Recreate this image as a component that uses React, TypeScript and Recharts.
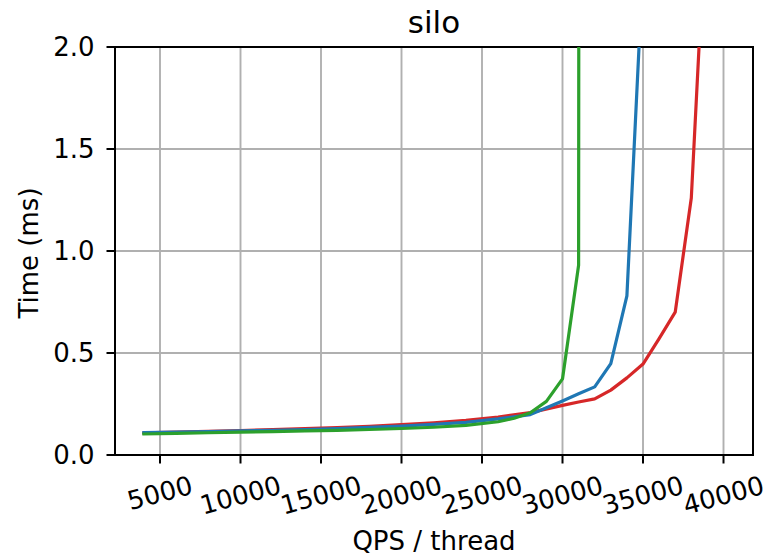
import React from 'react';
import { LineChart, Line, XAxis, YAxis, CartesianGrid, ReferenceArea } from 'recharts';

// QPS per thread (x) vs latency in ms (y)
const redQps = [4000, 6000, 8000, 10000, 12000, 14000, 16000, 18000, 20000, 22000, 24000, 26000, 28000, 30000, 31000, 32000, 33000, 34000, 35000, 36000, 37000, 38000, 39000, 40000];
const redMs = [0.108, 0.112, 0.116, 0.12, 0.124, 0.129, 0.134, 0.141, 0.149, 0.158, 0.17, 0.186, 0.208, 0.243, 0.26, 0.275, 0.318, 0.378, 0.446, 0.57, 0.7, 1.26, 2.8, 5.0];

const blueQps = [4000, 6000, 8000, 10000, 12000, 14000, 16000, 18000, 20000, 22000, 24000, 26000, 28000, 29000, 30000, 31000, 32000, 33000, 34000, 35000];
const blueMs = [0.11, 0.112, 0.115, 0.118, 0.121, 0.125, 0.129, 0.135, 0.142, 0.15, 0.16, 0.177, 0.198, 0.232, 0.265, 0.3, 0.334, 0.448, 0.78, 2.4];

const greenQps = [4000, 6000, 8000, 10000, 12000, 14000, 16000, 18000, 20000, 22000, 24000, 26000, 27000, 28000, 29000, 30000, 31000, 31050];
const greenMs = [0.103, 0.106, 0.109, 0.112, 0.115, 0.118, 0.121, 0.125, 0.13, 0.136, 0.145, 0.163, 0.18, 0.207, 0.263, 0.373, 0.93, 6.0];

const xTicks = [5000, 10000, 15000, 20000, 25000, 30000, 35000, 40000];
const yTicks = [0, 0.5, 1.0, 1.5, 2.0];
const xDomain: [number, number] = [2205, 41832];
const yDomain: [number, number] = [0, 2];

const title = 'silo';
const xLabel = 'QPS / thread';
const yLabel = 'Time (ms)';

const toPoints = (xs: number[], ys: number[]) => xs.map((x, i) => ({ x, y: ys[i] }));
const redData = toPoints(redQps, redMs);
const blueData = toPoints(blueQps, blueMs);
const greenData = toPoints(greenQps, greenMs);

const FONT = 'DejaVu Sans';
const FS = 26;

const XTick = (props: any) => {
  const { x, y, payload } = props;
  const label = String(payload.value);
  const w = label.length * 0.636 * FS;
  const h = FS * 0.96;
  const rad = (15 * Math.PI) / 180;
  const bh = w * Math.sin(rad) + h * Math.cos(rad);
  const cy = y + bh / 2;
  return (
    <text
      x={x}
      y={cy}
      textAnchor="middle"
      dominantBaseline="central"
      transform={`rotate(-15, ${x}, ${cy})`}
      fontFamily={FONT}
      fontSize={FS}
      fill="#000"
    >
      {label}
    </text>
  );
};

export default function App() {
  return (
    <div style={{ position: 'absolute', left: 0, top: 0, width: 768, height: 555, background: '#fff' }}>
      <LineChart width={768} height={555} margin={{ top: 47, right: 15, left: 0, bottom: 0 }}>
        <CartesianGrid stroke="#b0b0b0" strokeWidth={1.9} />
        <XAxis
          type="number"
          dataKey="x"
          domain={xDomain}
          allowDataOverflow
          ticks={xTicks}
          height={100}
          tickSize={8.5}
          tickMargin={9}
          axisLine={{ stroke: '#000', strokeWidth: 2 }}
          tickLine={{ stroke: '#000', strokeWidth: 2 }}
          tick={<XTick />}
          interval={0}
        />
        <YAxis
          type="number"
          dataKey="y"
          domain={yDomain}
          allowDataOverflow
          ticks={yTicks}
          width={115}
          tickSize={8.5}
          tickMargin={12}
          axisLine={{ stroke: '#000', strokeWidth: 2 }}
          tickLine={{ stroke: '#000', strokeWidth: 2 }}
          tick={{ fontSize: FS, fill: '#000', fontFamily: FONT }}
          tickFormatter={(v: number) => v.toFixed(1)}
          interval={0}
        />
        <Line data={redData} dataKey="y" type="linear" dot={false} stroke="#d62728" strokeWidth={3.2} strokeLinejoin="round" strokeLinecap="square" isAnimationActive={false} />
        <Line data={blueData} dataKey="y" type="linear" dot={false} stroke="#1f77b4" strokeWidth={3.2} strokeLinejoin="round" strokeLinecap="square" isAnimationActive={false} />
        <Line data={greenData} dataKey="y" type="linear" dot={false} stroke="#2ca02c" strokeWidth={3.2} strokeLinejoin="round" strokeLinecap="square" isAnimationActive={false} />
        <ReferenceArea x1={xDomain[0]} x2={xDomain[1]} y1={yDomain[0]} y2={yDomain[1]} fill="none" stroke="#000" strokeWidth={2} fillOpacity={0} />
      </LineChart>
      <svg width={768} height={555} style={{ position: 'absolute', left: 0, top: 0, pointerEvents: 'none' }}>
        <text x={434} y={33} textAnchor="middle" fontFamily={FONT} fontSize={31} fill="#000">{title}</text>
        <text x={434} y={550} textAnchor="middle" fontFamily={FONT} fontSize={FS} fill="#000">{xLabel}</text>
        <text x={38} y={253} textAnchor="middle" fontFamily={FONT} fontSize={FS} fill="#000" transform="rotate(-90, 38, 253)">{yLabel}</text>
      </svg>
    </div>
  );
}
